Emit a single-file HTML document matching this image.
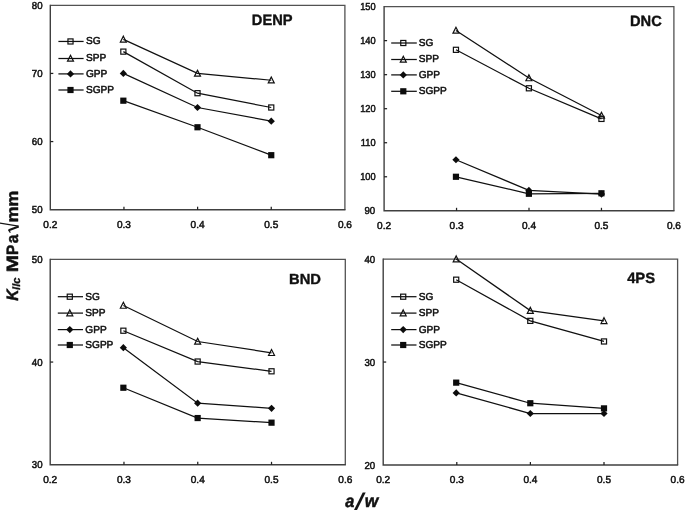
<!DOCTYPE html>
<html><head><meta charset="utf-8"><title>chart</title>
<style>
html,body{margin:0;padding:0;background:#fff;}
body{width:685px;height:510px;overflow:hidden;}
svg{display:block;filter:blur(0.6px);}
text{font-family:"Liberation Sans",sans-serif;fill:#101010;text-rendering:geometricPrecision;}
</style></head><body>
<svg width="685" height="510" viewBox="0 0 685 510">
<rect x="-5" y="-5" width="695" height="520" fill="#fff"/>
<path d="M50.3 5.3 H344.9 V209.7" fill="none" stroke="#525252" stroke-width="1.3"/>
<path d="M50.3 4.7 V209.7 H345.5" fill="none" stroke="#404040" stroke-width="1.4"/>
<text transform="translate(42.60 213.20) scale(0.95 1)" font-size="10.2" text-anchor="end" stroke="#101010" stroke-width="0.5">50</text>
<path d="M50.3 141.57 h3.0" stroke="#202020" stroke-width="1.25"/>
<text transform="translate(42.60 145.07) scale(0.95 1)" font-size="10.2" text-anchor="end" stroke="#101010" stroke-width="0.5">60</text>
<path d="M50.3 73.43 h3.0" stroke="#202020" stroke-width="1.25"/>
<text transform="translate(42.60 76.93) scale(0.95 1)" font-size="10.2" text-anchor="end" stroke="#101010" stroke-width="0.5">70</text>
<text transform="translate(42.60 8.80) scale(0.95 1)" font-size="10.2" text-anchor="end" stroke="#101010" stroke-width="0.5">80</text>
<text transform="translate(50.30 228.20) scale(0.99 1)" font-size="10.2" text-anchor="middle" stroke="#101010" stroke-width="0.5">0.2</text>
<path d="M123.95 209.7 v-3.0" stroke="#202020" stroke-width="1.25"/>
<text transform="translate(123.95 228.20) scale(0.99 1)" font-size="10.2" text-anchor="middle" stroke="#101010" stroke-width="0.5">0.3</text>
<path d="M197.60 209.7 v-3.0" stroke="#202020" stroke-width="1.25"/>
<text transform="translate(197.60 228.20) scale(0.99 1)" font-size="10.2" text-anchor="middle" stroke="#101010" stroke-width="0.5">0.4</text>
<path d="M271.25 209.7 v-3.0" stroke="#202020" stroke-width="1.25"/>
<text transform="translate(271.25 228.20) scale(0.99 1)" font-size="10.2" text-anchor="middle" stroke="#101010" stroke-width="0.5">0.5</text>
<text transform="translate(344.90 228.20) scale(0.99 1)" font-size="10.2" text-anchor="middle" stroke="#101010" stroke-width="0.5">0.6</text>
<polyline points="123.35,51.63 197.50,93.19 271.25,107.50" fill="none" stroke="#101010" stroke-width="1.25"/>
<polyline points="123.35,39.37 197.50,73.43 271.25,80.25" fill="none" stroke="#101010" stroke-width="1.25"/>
<polyline points="123.35,73.43 197.50,107.50 271.25,121.13" fill="none" stroke="#101010" stroke-width="1.25"/>
<polyline points="123.35,100.69 197.50,127.26 271.25,155.19" fill="none" stroke="#101010" stroke-width="1.25"/>
<rect x="120.80" y="49.08" width="5.1" height="5.1" fill="none" stroke="#101010" stroke-width="1.2"/>
<rect x="194.95" y="90.64" width="5.1" height="5.1" fill="none" stroke="#101010" stroke-width="1.2"/>
<rect x="268.70" y="104.95" width="5.1" height="5.1" fill="none" stroke="#101010" stroke-width="1.2"/>
<path d="M123.35 36.17 L126.35 42.07 L120.35 42.07 Z" fill="none" stroke="#101010" stroke-width="1.2"/>
<path d="M197.50 70.23 L200.50 76.13 L194.50 76.13 Z" fill="none" stroke="#101010" stroke-width="1.2"/>
<path d="M271.25 77.05 L274.25 82.95 L268.25 82.95 Z" fill="none" stroke="#101010" stroke-width="1.2"/>
<path d="M123.35 69.83 L126.95 73.43 L123.35 77.03 L119.75 73.43 Z" fill="#0c0c0c"/>
<path d="M197.50 103.90 L201.10 107.50 L197.50 111.10 L193.90 107.50 Z" fill="#0c0c0c"/>
<path d="M271.25 117.53 L274.85 121.13 L271.25 124.73 L267.65 121.13 Z" fill="#0c0c0c"/>
<rect x="120.25" y="97.59" width="6.2" height="6.2" fill="#0c0c0c"/>
<rect x="194.40" y="124.16" width="6.2" height="6.2" fill="#0c0c0c"/>
<rect x="268.15" y="152.09" width="6.2" height="6.2" fill="#0c0c0c"/>
<path d="M58.4 41.45 H83.6" stroke="#101010" stroke-width="1.25"/>
<rect x="67.95" y="38.90" width="5.1" height="5.1" fill="none" stroke="#101010" stroke-width="1.2"/>
<text transform="translate(86.00 44.35) scale(1.0 1)" font-size="10.1" text-anchor="start" stroke="#101010" stroke-width="0.5">SG</text>
<path d="M58.4 58.5 H83.6" stroke="#101010" stroke-width="1.25"/>
<path d="M70.50 55.30 L73.50 61.20 L67.50 61.20 Z" fill="none" stroke="#101010" stroke-width="1.2"/>
<text transform="translate(86.00 61.40) scale(1.0 1)" font-size="10.1" text-anchor="start" stroke="#101010" stroke-width="0.5">SPP</text>
<path d="M58.4 73.9 H83.6" stroke="#101010" stroke-width="1.25"/>
<path d="M70.50 70.30 L74.10 73.90 L70.50 77.50 L66.90 73.90 Z" fill="#0c0c0c"/>
<text transform="translate(86.00 76.80) scale(1.0 1)" font-size="10.1" text-anchor="start" stroke="#101010" stroke-width="0.5">GPP</text>
<path d="M58.4 90.0 H83.6" stroke="#101010" stroke-width="1.25"/>
<rect x="67.40" y="86.90" width="6.2" height="6.2" fill="#0c0c0c"/>
<text transform="translate(86.00 92.90) scale(1.0 1)" font-size="10.1" text-anchor="start" stroke="#101010" stroke-width="0.5">SGPP</text>
<text transform="matrix(0.14641 0 0 0.15127 251.812 25.300)" font-size="100.0" font-weight="bold" font-style="normal"  stroke="#141414" stroke-width="2.69" stroke-linejoin="round">DENP</text>
<path d="M384.1 6.6 H673.9 V210.8" fill="none" stroke="#525252" stroke-width="1.3"/>
<path d="M384.1 6.0 V210.8 H674.5" fill="none" stroke="#404040" stroke-width="1.4"/>
<text transform="translate(375.20 214.30) scale(0.95 1)" font-size="10.2" text-anchor="end" stroke="#101010" stroke-width="0.5">90</text>
<path d="M384.1 176.77 h3.0" stroke="#202020" stroke-width="1.25"/>
<text transform="translate(375.60 180.27) scale(0.91 1)" font-size="10.2" text-anchor="end" stroke="#101010" stroke-width="0.5">100</text>
<path d="M384.1 142.73 h3.0" stroke="#202020" stroke-width="1.25"/>
<text transform="translate(375.60 146.23) scale(0.91 1)" font-size="10.2" text-anchor="end" stroke="#101010" stroke-width="0.5">110</text>
<path d="M384.1 108.70 h3.0" stroke="#202020" stroke-width="1.25"/>
<text transform="translate(375.60 112.20) scale(0.91 1)" font-size="10.2" text-anchor="end" stroke="#101010" stroke-width="0.5">120</text>
<path d="M384.1 74.67 h3.0" stroke="#202020" stroke-width="1.25"/>
<text transform="translate(375.60 78.17) scale(0.91 1)" font-size="10.2" text-anchor="end" stroke="#101010" stroke-width="0.5">130</text>
<path d="M384.1 40.63 h3.0" stroke="#202020" stroke-width="1.25"/>
<text transform="translate(375.60 44.13) scale(0.91 1)" font-size="10.2" text-anchor="end" stroke="#101010" stroke-width="0.5">140</text>
<text transform="translate(375.60 10.10) scale(0.91 1)" font-size="10.2" text-anchor="end" stroke="#101010" stroke-width="0.5">150</text>
<text transform="translate(384.10 229.30) scale(0.99 1)" font-size="10.2" text-anchor="middle" stroke="#101010" stroke-width="0.5">0.2</text>
<path d="M456.55 210.8 v-3.0" stroke="#202020" stroke-width="1.25"/>
<text transform="translate(456.55 229.30) scale(0.99 1)" font-size="10.2" text-anchor="middle" stroke="#101010" stroke-width="0.5">0.3</text>
<path d="M529.00 210.8 v-3.0" stroke="#202020" stroke-width="1.25"/>
<text transform="translate(529.00 229.30) scale(0.99 1)" font-size="10.2" text-anchor="middle" stroke="#101010" stroke-width="0.5">0.4</text>
<path d="M601.45 210.8 v-3.0" stroke="#202020" stroke-width="1.25"/>
<text transform="translate(601.45 229.30) scale(0.99 1)" font-size="10.2" text-anchor="middle" stroke="#101010" stroke-width="0.5">0.5</text>
<text transform="translate(673.90 229.30) scale(0.99 1)" font-size="10.2" text-anchor="middle" stroke="#101010" stroke-width="0.5">0.6</text>
<polyline points="455.95,49.82 528.90,88.28 601.45,118.91" fill="none" stroke="#101010" stroke-width="1.25"/>
<polyline points="455.95,30.42 528.90,78.07 601.45,115.51" fill="none" stroke="#101010" stroke-width="1.25"/>
<polyline points="455.95,159.75 528.90,190.38 601.45,194.12" fill="none" stroke="#101010" stroke-width="1.25"/>
<polyline points="455.95,176.77 528.90,193.78 601.45,193.27" fill="none" stroke="#101010" stroke-width="1.25"/>
<rect x="453.40" y="47.27" width="5.1" height="5.1" fill="none" stroke="#101010" stroke-width="1.2"/>
<rect x="526.35" y="85.73" width="5.1" height="5.1" fill="none" stroke="#101010" stroke-width="1.2"/>
<rect x="598.90" y="116.36" width="5.1" height="5.1" fill="none" stroke="#101010" stroke-width="1.2"/>
<path d="M455.95 27.22 L458.95 33.12 L452.95 33.12 Z" fill="none" stroke="#101010" stroke-width="1.2"/>
<path d="M528.90 74.87 L531.90 80.77 L525.90 80.77 Z" fill="none" stroke="#101010" stroke-width="1.2"/>
<path d="M601.45 112.31 L604.45 118.21 L598.45 118.21 Z" fill="none" stroke="#101010" stroke-width="1.2"/>
<path d="M455.95 156.15 L459.55 159.75 L455.95 163.35 L452.35 159.75 Z" fill="#0c0c0c"/>
<path d="M528.90 186.78 L532.50 190.38 L528.90 193.98 L525.30 190.38 Z" fill="#0c0c0c"/>
<path d="M601.45 190.52 L605.05 194.12 L601.45 197.72 L597.85 194.12 Z" fill="#0c0c0c"/>
<rect x="452.85" y="173.67" width="6.2" height="6.2" fill="#0c0c0c"/>
<rect x="525.80" y="190.68" width="6.2" height="6.2" fill="#0c0c0c"/>
<rect x="598.35" y="190.17" width="6.2" height="6.2" fill="#0c0c0c"/>
<path d="M391.2 43.0 H416.8" stroke="#101010" stroke-width="1.25"/>
<rect x="400.75" y="40.45" width="5.1" height="5.1" fill="none" stroke="#101010" stroke-width="1.2"/>
<text transform="translate(418.70 45.90) scale(1.0 1)" font-size="10.1" text-anchor="start" stroke="#101010" stroke-width="0.5">SG</text>
<path d="M391.2 59.5 H416.8" stroke="#101010" stroke-width="1.25"/>
<path d="M403.30 56.30 L406.30 62.20 L400.30 62.20 Z" fill="none" stroke="#101010" stroke-width="1.2"/>
<text transform="translate(418.70 62.40) scale(1.0 1)" font-size="10.1" text-anchor="start" stroke="#101010" stroke-width="0.5">SPP</text>
<path d="M391.2 74.9 H416.8" stroke="#101010" stroke-width="1.25"/>
<path d="M403.30 71.30 L406.90 74.90 L403.30 78.50 L399.70 74.90 Z" fill="#0c0c0c"/>
<text transform="translate(418.70 77.80) scale(1.0 1)" font-size="10.1" text-anchor="start" stroke="#101010" stroke-width="0.5">GPP</text>
<path d="M391.2 91.3 H416.8" stroke="#101010" stroke-width="1.25"/>
<rect x="400.20" y="88.20" width="6.2" height="6.2" fill="#0c0c0c"/>
<text transform="translate(418.70 94.20) scale(1.0 1)" font-size="10.1" text-anchor="start" stroke="#101010" stroke-width="0.5">SGPP</text>
<text transform="matrix(0.14620 0 0 0.14841 630.013 26.452)" font-size="100.0" font-weight="bold" font-style="normal"  stroke="#141414" stroke-width="2.72" stroke-linejoin="round">DNC</text>
<path d="M50.2 259.3 H345.3 V464.8" fill="none" stroke="#525252" stroke-width="1.3"/>
<path d="M50.2 258.7 V464.8 H345.90000000000003" fill="none" stroke="#404040" stroke-width="1.4"/>
<text transform="translate(42.60 468.30) scale(0.95 1)" font-size="10.2" text-anchor="end" stroke="#101010" stroke-width="0.5">30</text>
<path d="M50.2 362.05 h3.0" stroke="#202020" stroke-width="1.25"/>
<text transform="translate(42.60 365.55) scale(0.95 1)" font-size="10.2" text-anchor="end" stroke="#101010" stroke-width="0.5">40</text>
<text transform="translate(42.60 262.80) scale(0.95 1)" font-size="10.2" text-anchor="end" stroke="#101010" stroke-width="0.5">50</text>
<text transform="translate(50.20 482.90) scale(0.99 1)" font-size="10.2" text-anchor="middle" stroke="#101010" stroke-width="0.5">0.2</text>
<path d="M123.97 464.8 v-3.0" stroke="#202020" stroke-width="1.25"/>
<text transform="translate(123.97 482.90) scale(0.99 1)" font-size="10.2" text-anchor="middle" stroke="#101010" stroke-width="0.5">0.3</text>
<path d="M197.75 464.8 v-3.0" stroke="#202020" stroke-width="1.25"/>
<text transform="translate(197.75 482.90) scale(0.99 1)" font-size="10.2" text-anchor="middle" stroke="#101010" stroke-width="0.5">0.4</text>
<path d="M271.52 464.8 v-3.0" stroke="#202020" stroke-width="1.25"/>
<text transform="translate(271.52 482.90) scale(0.99 1)" font-size="10.2" text-anchor="middle" stroke="#101010" stroke-width="0.5">0.5</text>
<text transform="translate(345.30 482.90) scale(0.99 1)" font-size="10.2" text-anchor="middle" stroke="#101010" stroke-width="0.5">0.6</text>
<polyline points="123.37,330.71 197.65,361.54 271.52,371.30" fill="none" stroke="#101010" stroke-width="1.25"/>
<polyline points="123.37,305.54 197.65,341.50 271.52,352.80" fill="none" stroke="#101010" stroke-width="1.25"/>
<polyline points="123.37,347.67 197.65,403.15 271.52,408.29" fill="none" stroke="#101010" stroke-width="1.25"/>
<polyline points="123.37,387.74 197.65,418.05 271.52,422.67" fill="none" stroke="#101010" stroke-width="1.25"/>
<rect x="120.82" y="328.16" width="5.1" height="5.1" fill="none" stroke="#101010" stroke-width="1.2"/>
<rect x="195.10" y="358.99" width="5.1" height="5.1" fill="none" stroke="#101010" stroke-width="1.2"/>
<rect x="268.97" y="368.75" width="5.1" height="5.1" fill="none" stroke="#101010" stroke-width="1.2"/>
<path d="M123.37 302.34 L126.37 308.24 L120.37 308.24 Z" fill="none" stroke="#101010" stroke-width="1.2"/>
<path d="M197.65 338.30 L200.65 344.20 L194.65 344.20 Z" fill="none" stroke="#101010" stroke-width="1.2"/>
<path d="M271.52 349.60 L274.52 355.50 L268.52 355.50 Z" fill="none" stroke="#101010" stroke-width="1.2"/>
<path d="M123.37 344.06 L126.97 347.67 L123.37 351.27 L119.77 347.67 Z" fill="#0c0c0c"/>
<path d="M197.65 399.55 L201.25 403.15 L197.65 406.75 L194.05 403.15 Z" fill="#0c0c0c"/>
<path d="M271.52 404.69 L275.12 408.29 L271.52 411.89 L267.92 408.29 Z" fill="#0c0c0c"/>
<rect x="120.27" y="384.64" width="6.2" height="6.2" fill="#0c0c0c"/>
<rect x="194.55" y="414.95" width="6.2" height="6.2" fill="#0c0c0c"/>
<rect x="268.42" y="419.57" width="6.2" height="6.2" fill="#0c0c0c"/>
<path d="M57.8 296.7 H83.0" stroke="#101010" stroke-width="1.25"/>
<rect x="67.25" y="294.15" width="5.1" height="5.1" fill="none" stroke="#101010" stroke-width="1.2"/>
<text transform="translate(85.30 299.60) scale(1.0 1)" font-size="10.1" text-anchor="start" stroke="#101010" stroke-width="0.5">SG</text>
<path d="M57.8 313.1 H83.0" stroke="#101010" stroke-width="1.25"/>
<path d="M69.80 309.90 L72.80 315.80 L66.80 315.80 Z" fill="none" stroke="#101010" stroke-width="1.2"/>
<text transform="translate(85.30 316.00) scale(1.0 1)" font-size="10.1" text-anchor="start" stroke="#101010" stroke-width="0.5">SPP</text>
<path d="M57.8 329.6 H83.0" stroke="#101010" stroke-width="1.25"/>
<path d="M69.80 326.00 L73.40 329.60 L69.80 333.20 L66.20 329.60 Z" fill="#0c0c0c"/>
<text transform="translate(85.30 332.50) scale(1.0 1)" font-size="10.1" text-anchor="start" stroke="#101010" stroke-width="0.5">GPP</text>
<path d="M57.8 345.0 H83.0" stroke="#101010" stroke-width="1.25"/>
<rect x="66.70" y="341.90" width="6.2" height="6.2" fill="#0c0c0c"/>
<text transform="translate(85.30 347.90) scale(1.0 1)" font-size="10.1" text-anchor="start" stroke="#101010" stroke-width="0.5">SGPP</text>
<text transform="matrix(0.14775 0 0 0.14691 289.003 284.100)" font-size="100.0" font-weight="bold" font-style="normal"  stroke="#141414" stroke-width="2.71" stroke-linejoin="round">BND</text>
<path d="M383.2 259.1 H677.6 V465.0" fill="none" stroke="#525252" stroke-width="1.3"/>
<path d="M383.2 258.5 V465.0 H678.2" fill="none" stroke="#404040" stroke-width="1.4"/>
<text transform="translate(375.20 468.50) scale(0.95 1)" font-size="10.2" text-anchor="end" stroke="#101010" stroke-width="0.5">20</text>
<path d="M383.2 362.05 h3.0" stroke="#202020" stroke-width="1.25"/>
<text transform="translate(375.20 365.55) scale(0.95 1)" font-size="10.2" text-anchor="end" stroke="#101010" stroke-width="0.5">30</text>
<text transform="translate(375.20 262.60) scale(0.95 1)" font-size="10.2" text-anchor="end" stroke="#101010" stroke-width="0.5">40</text>
<text transform="translate(383.20 483.10) scale(0.99 1)" font-size="10.2" text-anchor="middle" stroke="#101010" stroke-width="0.5">0.2</text>
<path d="M456.80 465.0 v-3.0" stroke="#202020" stroke-width="1.25"/>
<text transform="translate(456.80 483.10) scale(0.99 1)" font-size="10.2" text-anchor="middle" stroke="#101010" stroke-width="0.5">0.3</text>
<path d="M530.40 465.0 v-3.0" stroke="#202020" stroke-width="1.25"/>
<text transform="translate(530.40 483.10) scale(0.99 1)" font-size="10.2" text-anchor="middle" stroke="#101010" stroke-width="0.5">0.4</text>
<path d="M604.00 465.0 v-3.0" stroke="#202020" stroke-width="1.25"/>
<text transform="translate(604.00 483.10) scale(0.99 1)" font-size="10.2" text-anchor="middle" stroke="#101010" stroke-width="0.5">0.5</text>
<text transform="translate(677.60 483.10) scale(0.99 1)" font-size="10.2" text-anchor="middle" stroke="#101010" stroke-width="0.5">0.6</text>
<polyline points="456.20,279.69 530.30,320.87 604.00,341.46" fill="none" stroke="#101010" stroke-width="1.25"/>
<polyline points="456.20,259.10 530.30,310.58 604.00,320.87" fill="none" stroke="#101010" stroke-width="1.25"/>
<polyline points="456.20,392.94 530.30,413.52 604.00,413.52" fill="none" stroke="#101010" stroke-width="1.25"/>
<polyline points="456.20,382.64 530.30,403.23 604.00,408.38" fill="none" stroke="#101010" stroke-width="1.25"/>
<rect x="453.65" y="277.14" width="5.1" height="5.1" fill="none" stroke="#101010" stroke-width="1.2"/>
<rect x="527.75" y="318.32" width="5.1" height="5.1" fill="none" stroke="#101010" stroke-width="1.2"/>
<rect x="601.45" y="338.91" width="5.1" height="5.1" fill="none" stroke="#101010" stroke-width="1.2"/>
<path d="M456.20 255.90 L459.20 261.80 L453.20 261.80 Z" fill="none" stroke="#101010" stroke-width="1.2"/>
<path d="M530.30 307.38 L533.30 313.28 L527.30 313.28 Z" fill="none" stroke="#101010" stroke-width="1.2"/>
<path d="M604.00 317.67 L607.00 323.57 L601.00 323.57 Z" fill="none" stroke="#101010" stroke-width="1.2"/>
<path d="M456.20 389.33 L459.80 392.94 L456.20 396.54 L452.60 392.94 Z" fill="#0c0c0c"/>
<path d="M530.30 409.92 L533.90 413.52 L530.30 417.12 L526.70 413.52 Z" fill="#0c0c0c"/>
<path d="M604.00 409.92 L607.60 413.52 L604.00 417.12 L600.40 413.52 Z" fill="#0c0c0c"/>
<rect x="453.10" y="379.54" width="6.2" height="6.2" fill="#0c0c0c"/>
<rect x="527.20" y="400.13" width="6.2" height="6.2" fill="#0c0c0c"/>
<rect x="600.90" y="405.28" width="6.2" height="6.2" fill="#0c0c0c"/>
<path d="M391.2 296.7 H416.5" stroke="#101010" stroke-width="1.25"/>
<rect x="400.65" y="294.15" width="5.1" height="5.1" fill="none" stroke="#101010" stroke-width="1.2"/>
<text transform="translate(418.70 299.60) scale(1.0 1)" font-size="10.1" text-anchor="start" stroke="#101010" stroke-width="0.5">SG</text>
<path d="M391.2 313.1 H416.5" stroke="#101010" stroke-width="1.25"/>
<path d="M403.20 309.90 L406.20 315.80 L400.20 315.80 Z" fill="none" stroke="#101010" stroke-width="1.2"/>
<text transform="translate(418.70 316.00) scale(1.0 1)" font-size="10.1" text-anchor="start" stroke="#101010" stroke-width="0.5">SPP</text>
<path d="M391.2 329.6 H416.5" stroke="#101010" stroke-width="1.25"/>
<path d="M403.20 326.00 L406.80 329.60 L403.20 333.20 L399.60 329.60 Z" fill="#0c0c0c"/>
<text transform="translate(418.70 332.50) scale(1.0 1)" font-size="10.1" text-anchor="start" stroke="#101010" stroke-width="0.5">GPP</text>
<path d="M391.2 345.0 H416.5" stroke="#101010" stroke-width="1.25"/>
<rect x="400.10" y="341.90" width="6.2" height="6.2" fill="#0c0c0c"/>
<text transform="translate(418.70 347.90) scale(1.0 1)" font-size="10.1" text-anchor="start" stroke="#101010" stroke-width="0.5">SGPP</text>
<text transform="matrix(0.14714 0 0 0.14841 627.179 282.852)" font-size="100.0" font-weight="bold" font-style="normal"  stroke="#141414" stroke-width="2.71" stroke-linejoin="round">4PS</text>
<g transform="translate(18.0 300.4) rotate(-90)"><text transform="matrix(0.15686 0 0 0.16436 -0.225 -0.150)" font-size="100.0" font-weight="bold" font-style="italic"  stroke="#141414" stroke-width="3.11" stroke-linejoin="round">K</text><text transform="matrix(0.11250 0 0 0.11254 10.478 1.712)" font-size="100.0" font-weight="bold" font-style="italic"  stroke="#141414" stroke-width="3.11" stroke-linejoin="round">IIc</text><text transform="matrix(0.20714 0 0 0.16436 28.252 -0.150)" font-size="100.0" font-weight="bold" font-style="normal"  stroke="#141414" stroke-width="2.71" stroke-linejoin="round">M</text><text transform="matrix(0.15221 0 0 0.16436 45.323 -0.150)" font-size="100.0" font-weight="bold" font-style="normal"  stroke="#141414" stroke-width="3.16" stroke-linejoin="round">P</text><text transform="matrix(0.15399 0 0 0.16621 57.088 -0.016)" font-size="100.0" font-weight="bold" font-style="normal"  stroke="#141414" stroke-width="3.13" stroke-linejoin="round">a</text><text transform="matrix(0.18098 0 0 0.16372 77.974 -0.150)" font-size="100.0" font-weight="bold" font-style="normal"  stroke="#141414" stroke-width="2.90" stroke-linejoin="round">m</text><text transform="matrix(0.18098 0 0 0.16372 93.574 -0.150)" font-size="100.0" font-weight="bold" font-style="normal"  stroke="#141414" stroke-width="2.90" stroke-linejoin="round">m</text></g>
<path d="M-0.5 223.1 L18.5 226.2" stroke="#141414" stroke-width="1.35" fill="none"/><path d="M18.7 226.5 L8.7 230.3" stroke="#141414" stroke-width="2.1" fill="none"/><path d="M8.5 230.0 L10.4 232.6" stroke="#141414" stroke-width="1.2" fill="none"/>
<text transform="matrix(0.16268 0 0 0.17717 345.369 507.073)" font-size="100.0" font-weight="bold" font-style="italic"  stroke="#141414" stroke-width="2.95" stroke-linejoin="round">a</text>
<path d="M362.7 492.6 H365.7 L356.2 511.6 H353.2 Z" fill="#141414"/>
<text transform="matrix(0.17380 0 0 0.18009 364.724 507.150)" font-size="100.0" font-weight="bold" font-style="italic"  stroke="#141414" stroke-width="2.83" stroke-linejoin="round">w</text>
</svg>
</body></html>
